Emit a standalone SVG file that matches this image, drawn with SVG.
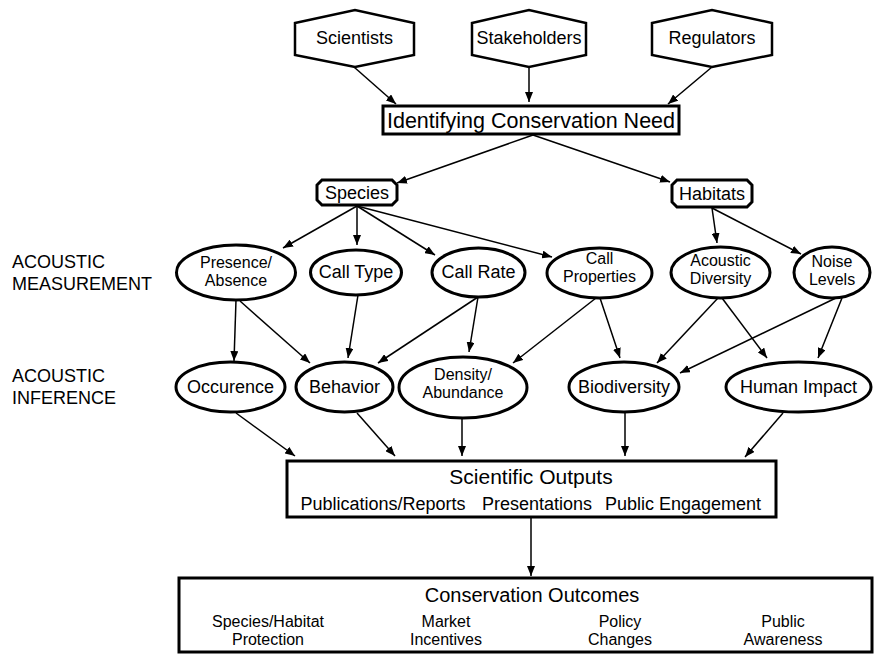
<svg xmlns="http://www.w3.org/2000/svg" width="881" height="655" viewBox="0 0 881 655">
<style>
text{font-family:"Liberation Sans",Arial,sans-serif;fill:#000;text-anchor:middle}
.t18{font-size:18px}
.t17{font-size:16px}
.lab{font-size:18px;text-anchor:start}
.hex{fill:#fff;stroke:#000;stroke-width:2.5}
.box{fill:#fff;stroke:#000;stroke-width:3}
.ell{fill:#fff;stroke:#000;stroke-width:3}
.con line{stroke:#000;stroke-width:1.5;marker-end:url(#ah)}
</style>
<defs>
<marker id="ah" markerUnits="userSpaceOnUse" markerWidth="10" markerHeight="8" refX="10" refY="4" orient="auto">
<path d="M0,0 L10,4 L0,8 z" fill="#000"/>
</marker>
</defs>
<rect width="881" height="655" fill="#fff"/>

<g class="con">
<line x1="354" y1="67" x2="396" y2="104"/>
<line x1="529" y1="67" x2="529" y2="102"/>
<line x1="712" y1="67" x2="668" y2="104"/>
<line x1="533" y1="135" x2="397" y2="183"/>
<line x1="533" y1="135" x2="670" y2="182"/>
<line x1="357" y1="206" x2="283" y2="248"/>
<line x1="357" y1="206" x2="357" y2="245"/>
<line x1="357" y1="206" x2="435" y2="255"/>
<line x1="357" y1="206" x2="552" y2="257"/>
<line x1="712" y1="208" x2="717" y2="243"/>
<line x1="712" y1="208" x2="801" y2="254"/>
<line x1="236" y1="300" x2="234" y2="361"/>
<line x1="240" y1="301" x2="310" y2="363"/>
<line x1="358" y1="295" x2="348" y2="358"/>
<line x1="478" y1="297" x2="378" y2="363"/>
<line x1="478" y1="297" x2="469" y2="352"/>
<line x1="596" y1="298" x2="513" y2="363"/>
<line x1="600" y1="298" x2="620" y2="358"/>
<line x1="718" y1="298" x2="657" y2="363"/>
<line x1="722" y1="298" x2="767" y2="358"/>
<line x1="838" y1="297" x2="680" y2="373"/>
<line x1="842" y1="298" x2="818" y2="358"/>
<line x1="236" y1="413" x2="295" y2="456"/>
<line x1="357" y1="413" x2="395" y2="456"/>
<line x1="462" y1="419" x2="462" y2="456"/>
<line x1="625" y1="413" x2="625" y2="456"/>
<line x1="783" y1="413" x2="745" y2="457"/>
<line x1="531" y1="518" x2="531" y2="576"/>
</g>

<g id="scientists"><polygon class="hex" points="295,23 355,10 414,23 414,55 355,67 295,55"/><text class="t18" x="354.5" y="44">Scientists</text></g>
<g id="stakeholders"><polygon class="hex" points="472,23 529,10 586,23 586,55 529,67 472,55"/><text class="t18" x="529" y="44">Stakeholders</text></g>
<g id="regulators"><polygon class="hex" points="652,23 712,10 772,23 772,55 712,67 652,55"/><text class="t18" x="712" y="44">Regulators</text></g>

<g id="identifying">
<rect class="box" x="383" y="106" width="296" height="28"/>
<text x="531" y="128" style="font-size:21.5px">Identifying Conservation Need</text>
</g>

<g id="species"><polygon class="box" points="322,180 392,180 397,185 397,200 392,205 322,205 317,200 317,185"/><text class="t18" x="357" y="199">Species</text></g>
<g id="habitats"><polygon class="box" points="677,180 747,180 752,185 752,202 747,207 677,207 672,202 672,185"/><text class="t18" x="712" y="200">Habitats</text></g>

<g id="label-measurement"><text class="lab" x="12" y="268">ACOUSTIC</text><text class="lab" x="12" y="290">MEASUREMENT</text></g>
<g id="label-inference"><text class="lab" x="12" y="382">ACOUSTIC</text><text class="lab" x="12" y="404">INFERENCE</text></g>

<g id="presence"><ellipse class="ell" cx="236" cy="272.5" rx="59.5" ry="27.5"/><text class="t17" x="236" y="268">Presence/</text><text class="t17" x="236" y="286">Absence</text></g>
<g id="calltype"><ellipse class="ell" cx="356" cy="272.5" rx="45.5" ry="22.5"/><text class="t18" x="356" y="278">Call Type</text></g>
<g id="callrate"><ellipse class="ell" cx="478.5" cy="272.5" rx="46.5" ry="24.5"/><text class="t18" x="478.5" y="278">Call Rate</text></g>
<g id="callprops"><ellipse class="ell" cx="599.5" cy="273" rx="52.5" ry="25"/><text class="t17" x="599.5" y="264">Call</text><text class="t17" x="599.5" y="282">Properties</text></g>
<g id="acdiv"><ellipse class="ell" cx="720.5" cy="272.5" rx="49.5" ry="25.5"/><text class="t17" x="720.5" y="266">Acoustic</text><text class="t17" x="720.5" y="284">Diversity</text></g>
<g id="noise"><ellipse class="ell" cx="832" cy="272.5" rx="38" ry="25.5"/><text class="t17" x="832" y="267">Noise</text><text class="t17" x="832" y="285">Levels</text></g>

<g id="occurence"><ellipse class="ell" cx="230.5" cy="387" rx="54.5" ry="25"/><text class="t18" x="230.5" y="393">Occurence</text></g>
<g id="behavior"><ellipse class="ell" cx="344.5" cy="387" rx="48.5" ry="25"/><text class="t18" x="344.5" y="393">Behavior</text></g>
<g id="density"><ellipse class="ell" cx="463" cy="387.5" rx="64" ry="30.5"/><text class="t17" x="463" y="380">Density/</text><text class="t17" x="463" y="398">Abundance</text></g>
<g id="biodiversity"><ellipse class="ell" cx="624" cy="387" rx="55" ry="25"/><text class="t18" x="624" y="393">Biodiversity</text></g>
<g id="humanimpact"><ellipse class="ell" cx="798.5" cy="387" rx="72.5" ry="25"/><text class="t18" x="798.5" y="393">Human Impact</text></g>

<g id="sciout">
<rect class="box" x="287" y="461" width="489" height="56"/>
<text x="531" y="484" style="font-size:21px">Scientific Outputs</text>
<text class="t18" x="383" y="510">Publications/Reports</text>
<text class="t18" x="537" y="510">Presentations</text>
<text class="t18" x="683" y="510">Public Engagement</text>
</g>

<g id="consout">
<rect class="box" x="179" y="578" width="693" height="74"/>
<text x="532" y="602" style="font-size:20px">Conservation Outcomes</text>
<text class="t17" x="268" y="627">Species/Habitat</text><text class="t17" x="268" y="645">Protection</text>
<text class="t17" x="446" y="627">Market</text><text class="t17" x="446" y="645">Incentives</text>
<text class="t17" x="620" y="627">Policy</text><text class="t17" x="620" y="645">Changes</text>
<text class="t17" x="783" y="627">Public</text><text class="t17" x="783" y="645">Awareness</text>
</g>
</svg>
